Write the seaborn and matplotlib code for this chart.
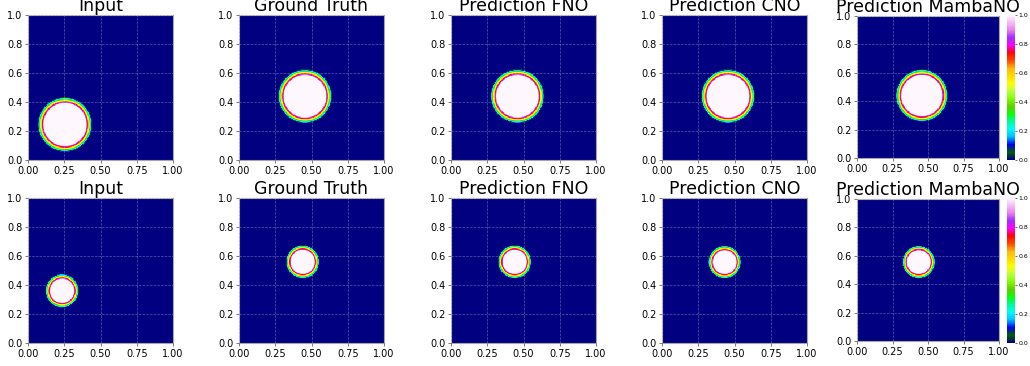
import numpy as np
import matplotlib
matplotlib.use("Agg")
import matplotlib.pyplot as plt
import seaborn as sns

# panel titles
titles = ["Input", "Ground Truth", "Prediction FNO", "Prediction CNO", "Prediction MambaNO"]

# circle centres (x, y), outer radius and ramp width per row
row1_cx = [0.255, 0.455, 0.458, 0.455, 0.457]
row1_cy = [0.245, 0.440, 0.440, 0.440, 0.440]
row1_r = [0.189, 0.187, 0.187, 0.187, 0.185]
row1_ramp = 0.044

row2_cx = [0.235, 0.439, 0.439, 0.432, 0.435]
row2_cy = [0.360, 0.560, 0.560, 0.558, 0.556]
row2_r = [0.117, 0.117, 0.117, 0.115, 0.117]
row2_ramp = 0.037

xtick_vals = [0.0, 0.25, 0.5, 0.75, 1.0]
ytick_vals = [0.0, 0.2, 0.4, 0.6, 0.8, 1.0]
cbar_ticks = [0.0, 0.2, 0.4, 0.6, 0.8, 1.0]

N = 256
g = (np.arange(N) + 0.5) / N
X, Y = np.meshgrid(g, g)


def field(cx, cy, r, ramp):
    d = np.sqrt((X - cx) ** 2 + (Y - cy) ** 2)
    return np.clip((r - d) / ramp, 0, 1)


W, H = 1030, 366
fig = plt.figure(figsize=(W / 100, H / 100), dpi=100)

col_left = [28, 239, 451, 662, 857]
col_w = [145, 145, 145, 145, 142]
row_top = [15, 198]
rows = [(row1_cx, row1_cy, row1_r, row1_ramp), (row2_cx, row2_cy, row2_r, row2_ramp)]

for i, (cxs, cys, rs, rp) in enumerate(rows):
    for j in range(5):
        w = col_w[j]
        top = row_top[i] + (1 if j == 4 else 0)
        ax = fig.add_axes([col_left[j] / W, 1 - (top + w) / H, w / W, w / H])
        last = j == 4
        cax = None
        if last:
            cax = fig.add_axes([1007 / W, 1 - (row_top[i] + 145) / H, 8 / W, 145 / H])
        sns.heatmap(field(cxs[j], cys[j], rs[j], rp), ax=ax, cmap="gist_ncar",
                    vmin=0, vmax=1, cbar=last, cbar_ax=cax,
                    xticklabels=False, yticklabels=False, rasterized=True)
        ax.invert_yaxis()
        ax.set_xticks([v * N for v in xtick_vals])
        ax.set_xticklabels([f"{v:.2f}" for v in xtick_vals], fontsize=7)
        ax.set_yticks([v * N for v in ytick_vals])
        ax.set_yticklabels([f"{v:.1f}" for v in ytick_vals], fontsize=7, rotation=0)
        ax.tick_params(length=2.5, width=0.6, pad=1.5, color="0.4")
        ax.set_axisbelow(False)
        ax.grid(True, color="white", linestyle="--", linewidth=0.5, alpha=0.35)
        for s in ax.spines.values():
            s.set_visible(True)
            s.set_color("0.65")
            s.set_linewidth(0.8)
        ax.set_title(titles[j], fontsize=12.5, pad=2.5)
        if last:
            cax.set_yticks(cbar_ticks)
            cax.set_yticklabels([f"{v:.1f}" for v in cbar_ticks], fontsize=4.5)
            cax.tick_params(length=1.5, width=0.4, pad=1)

fig.savefig("out.png", dpi=100)
